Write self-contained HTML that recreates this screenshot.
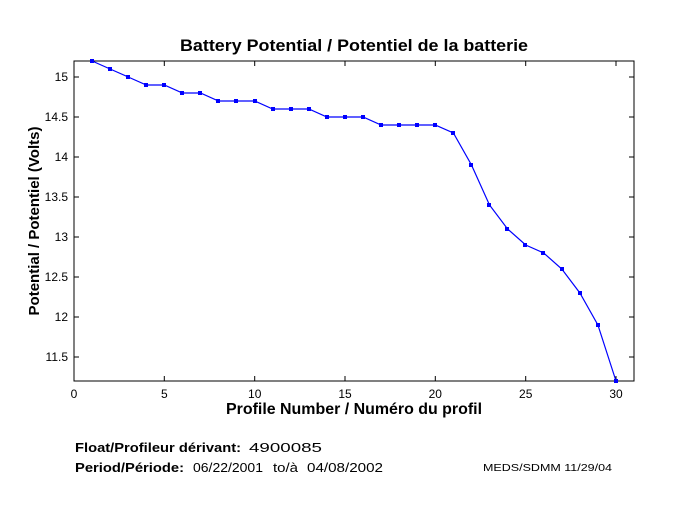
<!DOCTYPE html>
<html><head><meta charset="utf-8"><style>
body{margin:0;background:#fff;}
svg text{font-family:"Liberation Sans",sans-serif;}
</style></head><body>
<svg width="680" height="500" xmlns="http://www.w3.org/2000/svg">
<rect width="680" height="500" fill="#fff"/>
<text x="180" y="51" font-size="17" font-weight="bold" textLength="348" lengthAdjust="spacingAndGlyphs">Battery Potential / Potentiel de la batterie</text>
<rect x="74" y="61" width="560" height="320" fill="none" stroke="#000" stroke-width="1"/>
<g stroke="#000" stroke-width="1">
<line x1="164.3" y1="381" x2="164.3" y2="376"/><line x1="254.7" y1="381" x2="254.7" y2="376"/><line x1="345" y1="381" x2="345" y2="376"/><line x1="435.3" y1="381" x2="435.3" y2="376"/><line x1="525.7" y1="381" x2="525.7" y2="376"/><line x1="616" y1="381" x2="616" y2="376"/>
<line x1="164.3" y1="61" x2="164.3" y2="66"/><line x1="254.7" y1="61" x2="254.7" y2="66"/><line x1="345" y1="61" x2="345" y2="66"/><line x1="435.3" y1="61" x2="435.3" y2="66"/><line x1="525.7" y1="61" x2="525.7" y2="66"/><line x1="616" y1="61" x2="616" y2="66"/>
<line x1="74" y1="77" x2="79" y2="77"/><line x1="74" y1="117" x2="79" y2="117"/><line x1="74" y1="157" x2="79" y2="157"/><line x1="74" y1="197" x2="79" y2="197"/><line x1="74" y1="237" x2="79" y2="237"/><line x1="74" y1="277" x2="79" y2="277"/><line x1="74" y1="317" x2="79" y2="317"/><line x1="74" y1="357" x2="79" y2="357"/>
<line x1="634" y1="77" x2="629" y2="77"/><line x1="634" y1="117" x2="629" y2="117"/><line x1="634" y1="157" x2="629" y2="157"/><line x1="634" y1="197" x2="629" y2="197"/><line x1="634" y1="237" x2="629" y2="237"/><line x1="634" y1="277" x2="629" y2="277"/><line x1="634" y1="317" x2="629" y2="317"/><line x1="634" y1="357" x2="629" y2="357"/>
</g>
<g font-size="12" text-anchor="end">
<text x="68" y="81">15</text><text x="68" y="121">14.5</text><text x="68" y="161">14</text><text x="68" y="201">13.5</text><text x="68" y="241">13</text><text x="68" y="281">12.5</text><text x="68" y="321">12</text><text x="68" y="361">11.5</text>
</g>
<g font-size="12" text-anchor="middle">
<text x="74" y="398">0</text><text x="164.3" y="398">5</text><text x="254.7" y="398">10</text><text x="345" y="398">15</text><text x="435.3" y="398">20</text><text x="525.7" y="398">25</text><text x="616" y="398">30</text>
</g>
<text x="226" y="414" font-size="16" font-weight="bold" textLength="256" lengthAdjust="spacingAndGlyphs">Profile Number / Numéro du profil</text>
<text transform="translate(39,221) rotate(-90)" font-size="15" font-weight="bold" text-anchor="middle">Potential / Potentiel (Volts)</text>
<polyline fill="none" stroke="#0000ff" stroke-width="1.2" points="92.1,61 110.1,69 128.2,77 146.3,85 164.3,85 182.4,93 200.5,93 218.5,101 236.6,101 254.7,101 272.7,109 290.8,109 308.9,109 326.9,117 345,117 363.1,117 381.1,125 399.2,125 417.3,125 435.3,125 453.4,133 471.5,165 489.5,205 507.6,229 525.7,245 543.7,253 561.8,269 579.9,293 597.9,325 616,381"/>
<g fill="#0000ff">
<rect x="90" y="59" width="4" height="4"/><rect x="108" y="67" width="4" height="4"/><rect x="126" y="75" width="4" height="4"/><rect x="144" y="83" width="4" height="4"/><rect x="162" y="83" width="4" height="4"/><rect x="180" y="91" width="4" height="4"/><rect x="198" y="91" width="4" height="4"/><rect x="216" y="99" width="4" height="4"/><rect x="234" y="99" width="4" height="4"/><rect x="253" y="99" width="4" height="4"/><rect x="271" y="107" width="4" height="4"/><rect x="289" y="107" width="4" height="4"/><rect x="307" y="107" width="4" height="4"/><rect x="325" y="115" width="4" height="4"/><rect x="343" y="115" width="4" height="4"/><rect x="361" y="115" width="4" height="4"/><rect x="379" y="123" width="4" height="4"/><rect x="397" y="123" width="4" height="4"/><rect x="415" y="123" width="4" height="4"/><rect x="433" y="123" width="4" height="4"/><rect x="451" y="131" width="4" height="4"/><rect x="469" y="163" width="4" height="4"/><rect x="487" y="203" width="4" height="4"/><rect x="505" y="227" width="4" height="4"/><rect x="523" y="243" width="4" height="4"/><rect x="541" y="251" width="4" height="4"/><rect x="560" y="267" width="4" height="4"/><rect x="578" y="291" width="4" height="4"/><rect x="596" y="323" width="4" height="4"/><rect x="614" y="379" width="4" height="4"/>
</g>
<g font-size="13">
<text x="75" y="452" font-weight="bold" textLength="166" lengthAdjust="spacingAndGlyphs">Float/Profileur dérivant:</text>
<text x="249" y="452" textLength="73" lengthAdjust="spacingAndGlyphs">4900085</text>
<text x="75" y="472" font-weight="bold" textLength="109" lengthAdjust="spacingAndGlyphs">Period/Période:</text>
<text x="193" y="472" textLength="70" lengthAdjust="spacingAndGlyphs">06/22/2001</text>
<text x="273" y="472" textLength="25" lengthAdjust="spacingAndGlyphs">to/à</text>
<text x="307" y="472" textLength="76" lengthAdjust="spacingAndGlyphs">04/08/2002</text>
</g>
<text x="483" y="471" font-size="10" textLength="129" lengthAdjust="spacingAndGlyphs">MEDS/SDMM  11/29/04</text>
</svg>
</body></html>
